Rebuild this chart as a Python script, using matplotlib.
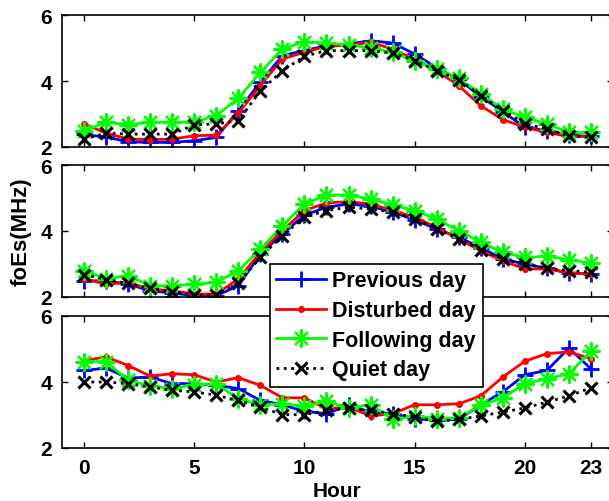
import matplotlib
matplotlib.use("Agg")
import matplotlib.pyplot as plt
import numpy as np

plt.rcParams['font.family'] = ['Liberation Sans', 'DejaVu Sans']
plt.rcParams['font.weight'] = 'bold'

hours = np.arange(24)

# top panel
top_prev = [2.38, 2.3, 2.16, 2.14, 2.14, 2.19, 2.29, 3.1, 3.96, 4.77, 4.92, 5.07, 5.12, 5.22, 5.15, 4.82,
            4.4, 4.05, 3.53, 3.07, 2.6, 2.49, 2.36, 2.32]
top_dist = [2.7, 2.42, 2.24, 2.22, 2.24, 2.34, 2.36, 3.02, 3.86, 4.67, 4.87, 5.05, 5.09, 5.17, 4.97, 4.65,
            4.31, 3.86, 3.25, 2.83, 2.6, 2.44, 2.32, 2.32]
top_foll = [2.49, 2.75, 2.67, 2.75, 2.75, 2.76, 2.95, 3.48, 4.26, 4.97, 5.19, 5.15, 5.1, 5.0, 4.87, 4.6,
            4.36, 4.08, 3.61, 3.15, 2.9, 2.7, 2.44, 2.44]
top_quiet = [2.24, 2.42, 2.39, 2.39, 2.39, 2.67, 2.7, 2.8, 3.7, 4.31, 4.75, 4.92, 4.92, 4.92, 4.85, 4.62,
             4.31, 4.04, 3.56, 3.1, 2.7, 2.55, 2.34, 2.29]

# middle panel
mid_prev = [2.49, 2.49, 2.39, 2.19, 2.12, 2.04, 2.04, 2.34, 3.3, 3.91, 4.48, 4.72, 4.82, 4.75, 4.57, 4.34,
            4.06, 3.81, 3.5, 3.15, 3.0, 2.87, 2.73, 2.7]
mid_dist = [2.55, 2.39, 2.44, 2.24, 2.19, 2.09, 2.09, 2.55, 3.35, 4.01, 4.62, 4.85, 4.89, 4.82, 4.62, 4.42,
            4.11, 3.76, 3.4, 3.1, 2.85, 2.85, 2.73, 2.7]
mid_foll = [2.8, 2.55, 2.65, 2.34, 2.34, 2.39, 2.44, 2.8, 3.45, 4.16, 4.82, 5.09, 5.09, 4.97, 4.79, 4.62,
            4.36, 4.01, 3.66, 3.35, 3.2, 3.23, 3.13, 3.03]
mid_quiet = [2.68, 2.53, 2.41, 2.26, 2.16, 2.06, 2.06, 2.42, 3.2, 3.86, 4.42, 4.62, 4.72, 4.67, 4.57, 4.37,
             4.06, 3.76, 3.43, 3.15, 3.0, 2.87, 2.8, 2.75]

# bottom panel
bot_prev = [4.35, 4.42, 4.12, 4.15, 3.95, 3.95, 3.9, 3.8, 3.44, 3.31, 3.11, 3.04, 3.29, 3.09, 3.04, 2.89,
            2.84, 2.87, 3.31, 3.7, 4.22, 4.35, 5.03, 4.4]
bot_dist = [4.65, 4.76, 4.5, 4.18, 4.25, 4.22, 4.0, 4.13, 3.9, 3.52, 3.52, 3.19, 3.24, 2.97, 3.04, 3.31,
            3.31, 3.34, 3.58, 4.15, 4.63, 4.86, 4.91, 4.71]
bot_foll = [4.62, 4.62, 4.05, 3.88, 3.8, 3.92, 3.95, 3.49, 3.31, 3.34, 3.27, 3.41, 3.21, 3.31, 2.87, 2.97,
            2.89, 2.91, 3.29, 3.52, 3.95, 4.1, 4.25, 4.93]
bot_quiet = [4.0, 4.0, 3.95, 3.85, 3.75, 3.7, 3.6, 3.44, 3.24, 3.01, 3.01, 3.14, 3.21, 3.14, 3.04, 2.94,
             2.81, 2.87, 2.97, 3.09, 3.21, 3.39, 3.58, 3.82]

labels = ['Previous day', 'Disturbed day', 'Following day', 'Quiet day']
xticks = [0, 5, 10, 15, 20, 23]
yticks = [2, 4, 6]

panels = [
    (top_prev, top_dist, top_foll, top_quiet),
    (mid_prev, mid_dist, mid_foll, mid_quiet),
    (bot_prev, bot_dist, bot_foll, bot_quiet),
]

fig = plt.figure(figsize=(6.09, 5.02), dpi=100)
ax_w = 551 / 609
ax_h = 132 / 502
bottoms = [1 - 148 / 502, 1 - 298 / 502, 1 - 449 / 502]

axes = []
for i, (prev, dist, foll, quiet) in enumerate(panels):
    ax = fig.add_axes([62 / 609, bottoms[i], ax_w, ax_h])
    l1, = ax.plot(hours, prev, color='#0000ff', lw=2, marker='+', ms=12, mew=2)
    l2, = ax.plot(hours, dist, color='#ff0000', lw=2, marker='.', ms=8)
    l3, = ax.plot(hours, foll, color='#00ff00', lw=2, marker=(8, 2, 0), ms=13, mew=1.6)
    l4, = ax.plot(hours, quiet, color='black', lw=2, ls=':', marker='x', ms=9, mew=2.2)
    ax.set_xlim(-1, 24)
    ax.set_ylim(2, 6)
    ax.set_xticks(xticks)
    ax.set_yticks(yticks)
    ax.tick_params(direction='in', length=4, width=1, top=True, right=True, labelsize=15, pad=7)
    for s in ax.spines.values():
        s.set_linewidth(1.2)
    if i < 2:
        ax.set_xticklabels([])
    axes.append(ax)

axes[2].set_xlabel('Hour', fontsize=15, fontweight='bold', labelpad=3)
fig.text(0.035, 1 - 232 / 502, 'foEs(MHz)', rotation=90, fontsize=16, fontweight='bold',
         ha='center', va='center')

leg = fig.legend([l1, l2, l3, l4], labels, loc='upper left',
                 bbox_to_anchor=(270 / 609, 1 - 265 / 502), fontsize=15.5,
                 handlelength=2.3, handletextpad=0.3, labelspacing=0.4,
                 borderpad=0.3, borderaxespad=0, fancybox=False, framealpha=1,
                 edgecolor='black')
leg.get_frame().set_linewidth(1.2)

fig.savefig('out.png', dpi=100)
